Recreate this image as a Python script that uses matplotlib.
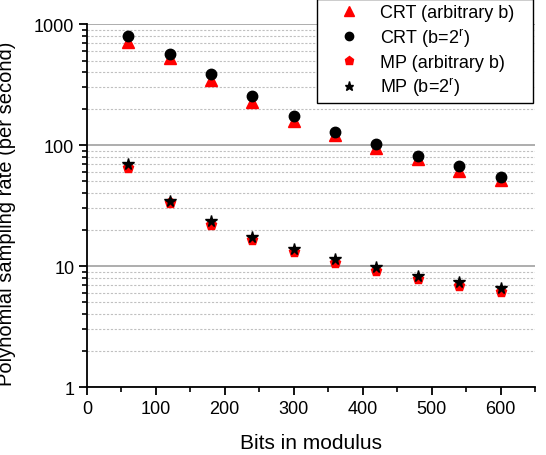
import numpy as np
import matplotlib
matplotlib.use('Agg')
import matplotlib.pyplot as plt
from matplotlib.ticker import LogLocator, NullFormatter, FixedLocator, FuncFormatter

plt.rcParams['font.family'] = ['Liberation Sans', 'DejaVu Sans']
plt.rcParams['mathtext.fontset'] = 'custom'
plt.rcParams['mathtext.rm'] = 'Liberation Sans'

bits = [60, 120, 180, 240, 300, 360, 420, 480, 540, 600]
crt_arb = [714, 520, 344, 225, 157, 121, 94.5, 76.6, 61.4, 51.7]
crt_pow2 = [800, 565, 384, 253, 175, 129, 102, 81.6, 66.7, 54.7]
mp_arb = [64.6, 33.3, 21.9, 16.4, 13.0, 10.7, 9.04, 7.77, 6.84, 6.06]
mp_pow2 = [69.7, 34.5, 23.5, 17.5, 13.8, 11.4, 9.8, 8.3, 7.33, 6.58]

fig = plt.figure(figsize=(5.46, 4.56), dpi=100)
ax = fig.add_axes([0.159, 0.149, 0.821, 0.796])

ax.plot(bits, crt_arb, '^', color='red', ms=8.5, mec='red', label='CRT (arbitrary b)', zorder=3)
ax.plot(bits, crt_pow2, 'o', color='black', ms=7.5, label=r'CRT (b=2$^{\mathrm{r}}$)', zorder=4)
ax.plot(bits, mp_arb, 'p', color='red', ms=8, mec='red', label='MP (arbitrary b)', zorder=3)
ax.plot(bits, mp_pow2, '*', color='black', ms=8.5, label=r'MP (b=2$^{\mathrm{r}}$)', zorder=4)

ax.set_yscale('log')
ax.set_ylim(1, 1000)
ax.set_xlim(0, 650)
ax.xaxis.set_major_locator(FixedLocator([0, 100, 200, 300, 400, 500, 600]))
ax.xaxis.set_minor_locator(FixedLocator([50, 150, 250, 350, 450, 550, 650]))
ax.yaxis.set_major_locator(FixedLocator([1, 10, 100, 1000]))
ax.yaxis.set_major_formatter(FuncFormatter(lambda v, p: '%d' % v))
ax.yaxis.set_minor_locator(LogLocator(base=10, subs=np.arange(2, 10)))
ax.yaxis.set_minor_formatter(NullFormatter())

ax.grid(True, which='major', axis='y', color='#a0a0a0', lw=1.2, ls='-')
ax.grid(True, which='minor', axis='y', color='#c0c0c0', lw=0.8, ls=(0, (2, 1.5)))
ax.set_axisbelow(True)

ax.spines['top'].set_visible(False)
ax.spines['right'].set_visible(False)
ax.spines['left'].set_linewidth(1.3)
ax.spines['bottom'].set_linewidth(1.3)
ax.tick_params(which='major', direction='out', length=6, width=1.3, labelsize=13, pad=3)
ax.tick_params(which='minor', direction='out', length=3.5, width=1.2)

ax.set_xlabel('Bits in modulus', fontsize=15, labelpad=12)
ax.set_ylabel('Polynomial sampling rate (per second)', fontsize=14.5)
ax.yaxis.set_label_coords(-0.158, 0.48)

fig.legend(loc='upper left', bbox_to_anchor=(317 / 546, 0.5, 216 / 546, 0.5), mode='expand',
           fontsize=13, frameon=True, fancybox=False, edgecolor='black', framealpha=1,
           borderpad=0.3, handletextpad=0.3, labelspacing=0.26, handlelength=2.9,
           markerscale=0.8, borderaxespad=0)

fig.savefig('out.png', dpi=100)
